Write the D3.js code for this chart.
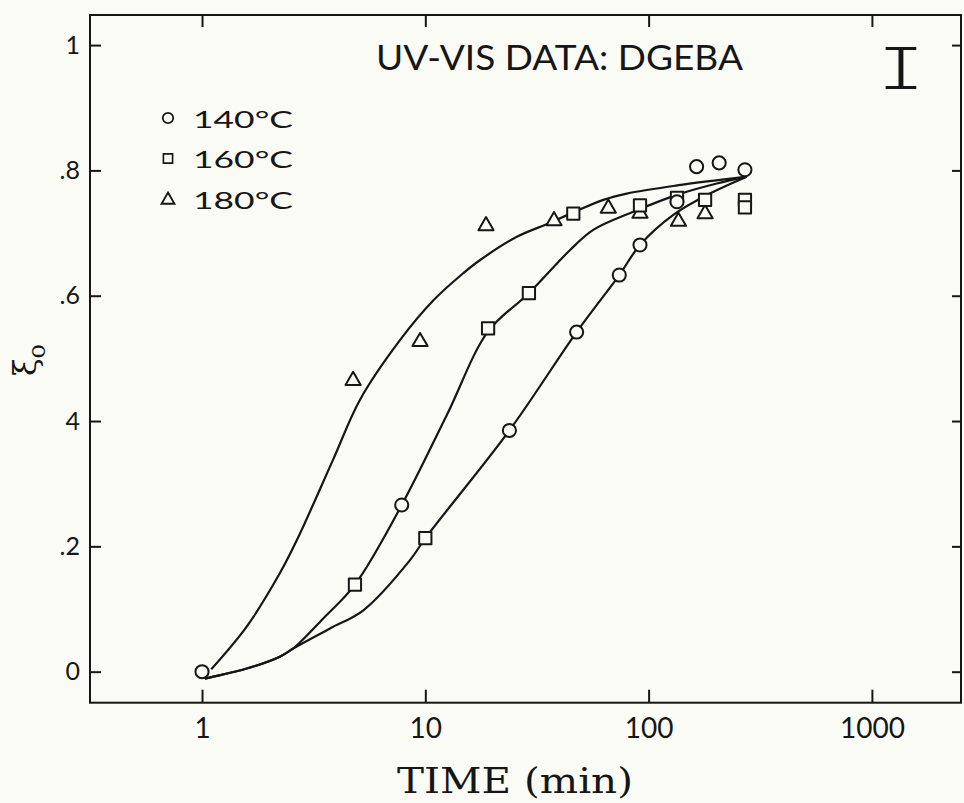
<!DOCTYPE html>
<html>
<head>
<meta charset="utf-8">
<script src="https://cdn.jsdelivr.net/npm/d3@7"></script>
<style>
  html, body { margin: 0; padding: 0; background: #fafbf5; }
  svg { display: block; }
</style>
</head>
<body>
<svg id="chart" width="964" height="803"></svg>
<script>
// ---------------- data ----------------
const seriesNames = ["140°C", "160°C", "180°C"];

// 140°C (circles)
const circleTime  = [1, 7.84, 23.8, 47.6, 73.9, 91.5, 134, 164, 207, 270];
const circleValue = [0, 0.266, 0.385, 0.542, 0.633, 0.681, 0.750, 0.806, 0.812, 0.801];

// 160°C (squares)
const squareTime  = [4.84, 10, 19.1, 29.1, 46, 91.5, 134, 179, 270, 270];
const squareValue = [0.139, 0.213, 0.548, 0.604, 0.731, 0.744, 0.756, 0.753, 0.753, 0.741];

// 180°C (triangles)
const triTime  = [4.75, 9.47, 18.7, 37.7, 66, 91.5, 136, 179];
const triValue = [0.467, 0.529, 0.714, 0.722, 0.742, 0.734, 0.721, 0.733];

// fitted curves
const curveATime  = [1.1, 1.585, 2.23, 2.66, 3.86, 5.1, 7.7, 10.9, 14.8, 17.6, 25.7, 36, 46, 62.7, 79.8, 134, 275];
const curveAValue = [0.004, 0.072, 0.157, 0.21, 0.338, 0.434, 0.529, 0.593, 0.636, 0.657, 0.694, 0.716, 0.733, 0.753, 0.763, 0.776, 0.79];

const curveBTime  = [1.03, 1.124, 1.585, 2.23, 2.56, 3.49, 4.84, 7.84, 12.5, 19.1, 29.1, 44.5, 56.5, 85.4, 134, 202, 275];
const curveBValue = [-0.011, -0.008, 0.005, 0.024, 0.037, 0.085, 0.139, 0.266, 0.41, 0.543, 0.604, 0.673, 0.705, 0.734, 0.761, 0.779, 0.79];

const curveCTime  = [1.03, 1.124, 1.585, 2.23, 2.56, 3.74, 5.28, 8.54, 10, 23.8, 47.6, 73.9, 91.5, 129, 188, 275];
const curveCValue = [-0.011, -0.008, 0.005, 0.024, 0.037, 0.069, 0.098, 0.178, 0.213, 0.385, 0.542, 0.633, 0.681, 0.729, 0.763, 0.79];

const xTicks = [1, 10, 100, 1000];
const xTickLabels = ["1", "10", "100", "1000"];
const yTicks = [0, 0.2, 0.4, 0.6, 0.8, 1];
const yTickLabels = ["0", ".2", "4", ".6", ".8", "1"];

const titleText = "UV-VIS DATA: DGEBA";
const panelText = "I";
const xTitle = "TIME (min)";

// ---------------- drawing ----------------
(function draw() {
const svg = d3.select("#chart");
const bg = "#fafbf5";
const ink = "#161616";
const sans = "Lato, 'Open Sans', sans-serif";

svg.append("rect").attr("width", 964).attr("height", 803).attr("fill", bg);

const pL = 90, pR = 961, pT = 15, pB = 702.7;
const x = d3.scaleLog().domain([0.315, 2506]).range([pL, pR]);
const y = d3.scaleLinear().domain([-0.0495, 1.048]).range([pB, pT]);

// frame
svg.append("rect")
  .attr("x", pL).attr("y", pT)
  .attr("width", pR - pL).attr("height", pB - pT)
  .attr("fill", "none").attr("stroke", ink).attr("stroke-width", 2);

function styleAxis(g) {
  g.select(".domain").remove();
  g.selectAll(".tick line").attr("stroke", ink).attr("stroke-width", 2);
  g.selectAll("text").attr("fill", ink).attr("font-family", sans);
}

// bottom axis
const gx = svg.append("g").attr("transform", `translate(0,${pB})`)
  .call(d3.axisBottom(x).tickValues(xTicks).tickFormat((d, i) => xTickLabels[i])
    .tickSize(-13).tickPadding(15));
styleAxis(gx);
gx.selectAll("text").attr("font-size", 28);

// top axis
const gxt = svg.append("g").attr("transform", `translate(0,${pT})`)
  .call(d3.axisTop(x).tickValues(xTicks).tickFormat("").tickSize(-12));
styleAxis(gxt);

// left axis
const gy = svg.append("g").attr("transform", `translate(${pL},0)`)
  .call(d3.axisLeft(y).tickValues(yTicks).tickFormat((d, i) => yTickLabels[i])
    .tickSize(-11).tickPadding(10));
styleAxis(gy);
gy.selectAll("text").attr("font-size", 25);

// right axis
const gyr = svg.append("g").attr("transform", `translate(${pR},0)`)
  .call(d3.axisRight(y).tickValues(yTicks).tickFormat("").tickSize(-9));
styleAxis(gyr);

// curves
const line = d3.line()
  .x(d => x(d[0])).y(d => y(d[1]))
  .curve(d3.curveCatmullRom.alpha(0.5));
const curves = [
  d3.zip(curveATime, curveAValue),
  d3.zip(curveBTime, curveBValue),
  d3.zip(curveCTime, curveCValue)
];
svg.append("g").selectAll("path").data(curves).join("path")
  .attr("d", line)
  .attr("fill", "none").attr("stroke", ink).attr("stroke-width", 2.2)
  .attr("stroke-linejoin", "round");

// markers
const symCircle = d3.symbol().type(d3.symbolCircle).size(135);
const symSquare = d3.symbol().type(d3.symbolSquare).size(150);
const symTri = d3.symbol().type(d3.symbolTriangle).size(100);

function drawMarkers(times, values, sym, dy) {
  svg.append("g").selectAll("path").data(d3.zip(times, values)).join("path")
    .attr("transform", d => `translate(${x(d[0])},${y(d[1]) + dy})`)
    .attr("d", sym)
    .attr("fill", bg).attr("stroke", ink).attr("stroke-width", 2)
    .attr("stroke-linejoin", "round");
}
drawMarkers(triTime, triValue, symTri, 1.5);
drawMarkers(squareTime, squareValue, symSquare, 0);
drawMarkers(circleTime, circleValue, symCircle, 0);

// legend
const legendSyms = [symCircle, symSquare, symTri];
const legendSymScale = [0.8, 0.75, 0.85];
const legend = svg.append("g");
seriesNames.forEach((name, i) => {
  const cy = 118 + i * 40.5;
  legend.append("path")
    .attr("transform", `translate(168,${cy + (i === 2 ? 1 : 0)}) scale(${legendSymScale[i]})`)
    .attr("d", legendSyms[i])
    .attr("fill", bg).attr("stroke", ink).attr("stroke-width", 2.2);
  legend.append("text")
    .attr("x", 193).attr("y", cy + 9.5)
    .attr("font-family", sans).attr("font-size", 24).attr("fill", ink)
    .attr("textLength", 100).attr("lengthAdjust", "spacingAndGlyphs")
    .text(name);
});

// title
svg.append("text")
  .attr("x", 376).attr("y", 70)
  .attr("font-family", sans).attr("font-size", 34).attr("fill", ink)
  .attr("textLength", 367).attr("lengthAdjust", "spacingAndGlyphs")
  .text(titleText);

// panel numeral (thinned with a background-coloured outline)
svg.append("text")
  .attr("x", 901).attr("y", 90).attr("text-anchor", "middle")
  .attr("font-family", "'Liberation Mono', monospace").attr("font-size", 66)
  .attr("fill", ink).attr("stroke", bg).attr("stroke-width", 2.2)
  .attr("textLength", 50).attr("lengthAdjust", "spacingAndGlyphs")
  .text(panelText);

// x title
svg.append("text")
  .attr("x", 397).attr("y", 793)
  .attr("font-family", "'DejaVu Serif', serif").attr("font-size", 36).attr("fill", ink)
  .attr("textLength", 236).attr("lengthAdjust", "spacingAndGlyphs")
  .text(xTitle);

// y title (xi subscript o)
const yt = svg.append("text")
  .attr("transform", "translate(36,360) rotate(-90)")
  .attr("text-anchor", "middle")
  .attr("font-family", "'DejaVu Serif', serif").attr("fill", ink);
yt.append("tspan").attr("font-size", 32).text("ξ");
yt.append("tspan").attr("font-size", 24).attr("dy", 9).text("o");
})();
</script>
</body>
</html>
